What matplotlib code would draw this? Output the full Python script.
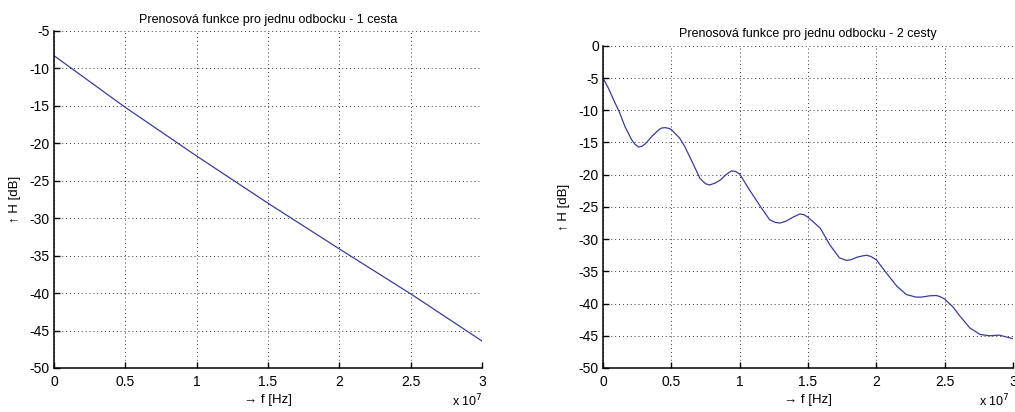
import numpy as np
import matplotlib
matplotlib.use("Agg")
import matplotlib.pyplot as plt
from matplotlib.ticker import FuncFormatter

plt.rcParams['font.family'] = ['Liberation Sans', 'DejaVu Sans']
plt.rcParams['font.size'] = 9.5

# frequency in units of 1e7 Hz, transfer function in dB
f_one = [0.0, 0.5, 1.0, 1.5, 2.0, 2.5, 3.0]
h_one = [-8.3, -15.2, -21.7, -28.0, -34.1, -40.1, -46.4]

f_two = [0.00, 0.04, 0.08, 0.12, 0.16, 0.21, 0.235, 0.26, 0.285, 0.31, 0.36, 0.41,
         0.43, 0.455, 0.48, 0.50, 0.56, 0.60, 0.65, 0.71, 0.75, 0.78, 0.82, 0.86,
         0.90, 0.94, 0.97, 1.00, 1.07, 1.16, 1.22, 1.26, 1.295, 1.34, 1.39, 1.44,
         1.47, 1.50, 1.59, 1.66, 1.73, 1.78, 1.815, 1.86, 1.90, 1.93, 1.96, 2.00,
         2.075, 2.15, 2.22, 2.29, 2.33, 2.39, 2.44, 2.47, 2.50, 2.56, 2.61, 2.685,
         2.76, 2.83, 2.90, 3.00]
h_two = [-5.0, -6.6, -8.5, -10.3, -12.5, -14.6, -15.3, -15.7, -15.6, -15.2, -14.0, -13.0,
         -12.75, -12.7, -12.8, -13.0, -14.3, -15.7, -17.9, -20.6, -21.4, -21.6, -21.3, -20.8,
         -20.0, -19.4, -19.5, -19.9, -22.3, -25.2, -27.0, -27.4, -27.5, -27.2, -26.6, -26.1,
         -26.2, -26.6, -28.3, -30.9, -32.9, -33.3, -33.2, -32.8, -32.6, -32.5, -32.7, -33.2,
         -35.3, -37.3, -38.6, -39.0, -39.0, -38.8, -38.75, -38.95, -39.3, -40.5, -41.9, -43.8,
         -44.8, -45.0, -44.9, -45.45]

x_ticks = [0, 0.5, 1, 1.5, 2, 2.5, 3]
titles = ["Prenosová funkce pro jednu odbocku - 1 cesta",
          "Prenosová funkce pro jednu odbocku - 2 cesty"]

line_col = "#3a3c9c"

fig = plt.figure(figsize=(10.15, 4.12), dpi=100)
ax1 = fig.add_axes([0.0532, 0.1068, 0.4217, 0.818])
ax2 = fig.add_axes([0.5941, 0.1068, 0.4039, 0.782])


def style(ax, ylim, yticks):
    ax.set_xlim(0, 3)
    ax.set_ylim(*ylim)
    ax.set_xticks(x_ticks)
    ax.set_yticks(yticks)
    ax.xaxis.set_major_formatter(FuncFormatter(lambda v, p: f"{v:g}"))
    ax.yaxis.set_major_formatter(FuncFormatter(lambda v, p: f"{v:g}"))
    ax.tick_params(direction="in", length=4, width=1, colors="black", labelsize=10)
    ax.tick_params(axis="x", pad=5)
    ax.tick_params(axis="y", pad=3)
    for s in ["top", "right"]:
        ax.spines[s].set_visible(False)
    for s in ["left", "bottom"]:
        ax.spines[s].set_linewidth(1.1)
    ax.grid(True, linestyle=(0, (1, 3)), color="black", linewidth=0.7, alpha=0.8)
    ax.set_axisbelow(True)
    ax.set_xlabel("→ f [Hz]", labelpad=4)
    ax.set_ylabel("↑ H [dB]", labelpad=6)


ax1.plot(f_one, h_one, color=line_col, linewidth=0.9)
style(ax1, (-50, -5), range(-50, -4, 5))
ax1.set_title(titles[0], fontsize=9, pad=6)

ax2.plot(f_two, h_two, color=line_col, linewidth=0.9)
style(ax2, (-50, 0), range(-50, 1, 5))
ax2.set_title(titles[1], fontsize=9, pad=6)

# MATLAB-style exponent labels under the right end of each x axis
fig.text(483 / 1015, 6 / 412, r"x 10$^7$", ha="right", va="baseline", fontsize=9)
fig.text(1010 / 1015, 6 / 412, r"x 10$^7$", ha="right", va="baseline", fontsize=9)

fig.savefig("out.png", dpi=100)
